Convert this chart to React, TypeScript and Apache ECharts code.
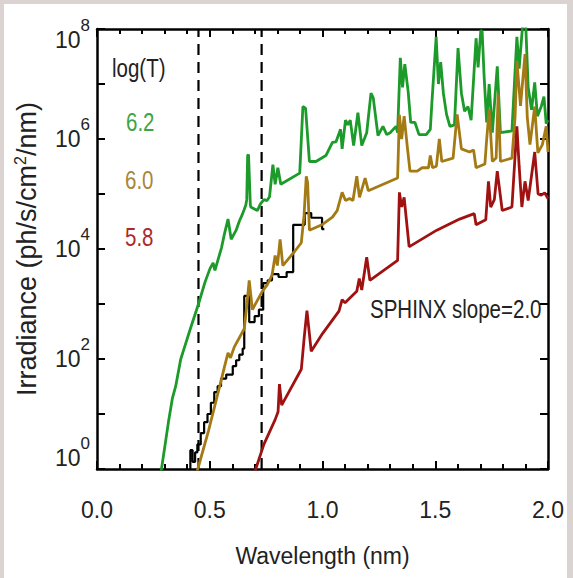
import React, { useEffect, useRef } from "react";
import * as echarts from "echarts";

const FONT = "'Liberation Sans Narrow','Arial Narrow','Nimbus Sans Narrow','Liberation Sans',Arial,sans-serif";
const SX = 0.82;

// x tick labels
const xTicks = [0, 0.5, 1.0, 1.5, 2.0];

// log(T)=6.2
const greenWl = [0.28, 0.286, 0.317, 0.334, 0.349, 0.371, 0.384, 0.414, 0.45, 0.479, 0.501, 0.515, 0.523, 0.552, 0.566, 0.581, 0.595, 0.617, 0.631, 0.646, 0.66, 0.664, 0.668, 0.672, 0.68, 0.682, 0.711, 0.725, 0.74, 0.754, 0.765, 0.78, 0.79, 0.802, 0.815, 0.899, 0.913, 0.925, 0.942, 0.971, 1.015, 1.044, 1.06, 1.08, 1.087, 1.102, 1.112, 1.123, 1.138, 1.157, 1.174, 1.196, 1.215, 1.225, 1.246, 1.268, 1.285, 1.30, 1.326, 1.333, 1.345, 1.355, 1.365, 1.38, 1.391, 1.41, 1.428, 1.46, 1.478, 1.485, 1.504, 1.514, 1.524, 1.536, 1.55, 1.565, 1.585, 1.601, 1.616, 1.63, 1.645, 1.659, 1.681, 1.69, 1.702, 1.708, 1.717, 1.728, 1.739, 1.753, 1.775, 1.789, 1.84, 1.862, 1.872, 1.888, 1.901, 1.912, 1.927, 1.941, 1.953, 1.97, 1.982, 1.992, 2.0];
const greenVal = [0.7, 1, 7.2, 19, 32, 98, 145, 355, 1000, 2500, 4400, 5600, 4100, 1.05e4, 1.95e4, 3.5e4, 1.5e4, 2.2e4, 3.2e4, 4.4e4, 6.3e4, 7.9e4, 5.0e5, 5.2e5, 6.3e4, 5.8e4, 5.0e4, 6.6e4, 7.9e4, 7.6e4, 8.9e4, 3.4e5, 1.5e5, 3.0e5, 1.5e5, 2.4e5, 3.9e6, 3.6e6, 3.9e5, 3.9e5, 5.0e5, 8.7e5, 8.9e5, 1.5e6, 6.6e5, 2.2e6, 1.8e6, 2.2e6, 7.6e5, 3.0e6, 7.6e5, 1.3e6, 6.8e6, 5.6e6, 1.15e6, 1.7e6, 1.2e6, 1.3e6, 1.7e6, 1.3e6, 3.0e7, 8.7e6, 2.3e7, 7.2e6, 2.0e6, 2.0e6, 1.2e6, 1.2e6, 1.5e6, 4.5e6, 7.2e7, 1.0e7, 2.5e7, 6.8e6, 2.8e6, 1.7e6, 1.8e6, 4.5e7, 6.8e6, 3.2e6, 3.9e6, 2.2e6, 6.8e7, 2.0e7, 9.5e7, 8.9e7, 1.3e7, 2.0e6, 1.0e7, 1.3e6, 2.1e7, 1.3e6, 1.4e6, 7.2e7, 1.9e7, 1.26e8, 1.26e8, 8.7e6, 3.4e6, 1.07e7, 2.6e6, 3.9e6, 5.9e6, 1.9e6, 2.2e6];

// log(T)=6.0
const goldWl = [0.44, 0.447, 0.494, 0.523, 0.552, 0.566, 0.581, 0.592, 0.609, 0.653, 0.665, 0.675, 0.689, 0.733, 0.754, 0.776, 0.79, 0.80, 0.812, 0.824, 0.877, 0.906, 0.918, 0.928, 0.934, 0.942, 1.0, 1.044, 1.065, 1.087, 1.102, 1.12, 1.135, 1.152, 1.164, 1.189, 1.203, 1.333, 1.341, 1.351, 1.362, 1.377, 1.388, 1.42, 1.442, 1.47, 1.478, 1.488, 1.505, 1.518, 1.529, 1.579, 1.597, 1.616, 1.652, 1.67, 1.681, 1.72, 1.727, 1.739, 1.753, 1.77, 1.779, 1.789, 1.84, 1.854, 1.862, 1.878, 1.898, 1.908, 1.92, 1.941, 1.955, 1.975, 1.992, 2.0];
const goldVal = [0.8, 1, 4.9, 14.5, 43, 74, 129, 105, 166, 355, 1000, 2700, 790, 1700, 2200, 3300, 7600, 5000, 1.5e4, 5000, 9100, 1.3e4, 4.0e4, 2.1e5, 1.6e5, 2.2e4, 2.8e4, 3.8e4, 5.0e4, 1.07e5, 7.6e4, 8.3e4, 7.6e4, 2.1e5, 8.7e4, 1.95e5, 1.15e5, 1.95e5, 2.75e6, 1.0e6, 2.6e6, 6.6e5, 2.6e5, 2.6e5, 3.0e5, 3.0e5, 5.0e5, 3.0e5, 3.2e5, 1.0e6, 3.9e5, 4.5e5, 2.8e6, 6.6e5, 5.8e5, 6.3e5, 3.0e5, 3.5e5, 8.7e5, 3.5e6, 3.9e5, 4.5e5, 6.6e6, 3.9e5, 4.5e5, 2.5e6, 2.6e7, 4.0e6, 3.5e7, 2.5e6, 7.9e5, 3.9e6, 5.6e5, 7.9e5, 1.7e6, 5.8e5];

// log(T)=5.8
const redWl = [0.70, 0.704, 0.74, 0.79, 0.803, 0.809, 0.819, 0.906, 0.919, 0.931, 0.95, 1.0, 1.073, 1.087, 1.10, 1.152, 1.163, 1.174, 1.196, 1.21, 1.333, 1.341, 1.351, 1.362, 1.384, 1.40, 1.507, 1.608, 1.673, 1.681, 1.724, 1.736, 1.746, 1.762, 1.775, 1.797, 1.84, 1.862, 1.872, 1.884, 1.898, 1.912, 1.941, 1.956, 1.97, 1.985, 2.0];
const redVal = [0.8, 1, 2.8, 7.9, 11, 35, 14.5, 65, 250, 760, 138, 290, 740, 1200, 1050, 1700, 2900, 1800, 7100, 2700, 6200, 1.07e5, 5.8e4, 8.7e4, 1.1e4, 1.2e4, 2.2e4, 3.5e4, 4.4e4, 2.75e4, 3.4e4, 1.7e5, 5.8e4, 7.9e4, 2.6e5, 5.0e4, 5.8e4, 1.7e6, 3.2e5, 5.8e4, 1.7e5, 7.6e4, 5.8e5, 1.0e5, 9.5e4, 1.05e5, 8.3e4];

// SPHINX spectrum (bin start, value)
const sphinxWl = [0.40, 0.414, 0.424, 0.435, 0.445, 0.46, 0.475, 0.49, 0.505, 0.52, 0.535, 0.55, 0.573, 0.602, 0.617, 0.631, 0.646, 0.653, 0.675, 0.699, 0.718, 0.737, 0.757, 0.776, 0.805, 0.841, 0.870, 0.921, 0.95, 0.998, 1.008];
const sphinxVal = [0.5, 2.2, 1.35, 2.0, 2.8, 4.5, 7.1, 10, 16, 25, 32, 44, 52, 74, 95, 120, 155, 1400, 470, 600, 790, 2400, 2700, 3500, 3100, 3800, 2.75e4, 4.5e4, 3.7e4, 2.3e4, 2.3e4];

// dashed band edges (nm) and y range
const bandEdges = [0.45, 0.73];
const yRange = [1, 1e8];

const zip = (xs: number[], ys: number[]) => xs.map((x, i) => [x, ys[i]]);

export default function App() {
  const ref = useRef<HTMLDivElement>(null);
  useEffect(() => {
    const chart = echarts.init(ref.current!, null, { renderer: "svg" });
    const axisLine = { show: true, onZero: false, lineStyle: { color: "#000", width: 2.5 } };
    const tick = { show: true, inside: true, length: 8, lineStyle: { color: "#000", width: 2 } };
    const minor = { show: true, splitNumber: 5, length: 5, lineStyle: { color: "#000", width: 2 } };
    const yFmt = (v: number) => {
      const e = Math.round(Math.log10(v));
      if (e % 2 !== 0) return "";
      if (e === 8) return `{sp8| }\n{b|10}{s|${e}}`;
      if (e === 0) return `{b|10}{s|${e}}\n{sp0| }`;
      return `{b|10}{s|${e}}`;
    };
    const lineSeries = (data: number[][], color: string, width: number, z: number, extra: any = {}) => ({
      type: "line",
      data,
      xAxisIndex: 0,
      yAxisIndex: 0,
      symbol: "none",
      showSymbol: false,
      silent: true,
      clip: true,
      z,
      lineStyle: { color, width, ...(extra.lineStyle || {}) },
      ...(extra.step ? { step: extra.step } : {}),
    });
    const txt = (text: string, x: number, y: number, fill: string) => ({
      type: "text", x, y, scaleX: SX, scaleY: 1,
      style: { text, fontSize: 25, fontFamily: FONT, fill, verticalAlign: "middle" },
    });
    chart.setOption({
      animation: false,
      textStyle: { fontFamily: FONT },
      grid: { left: 89, top: 13.5, right: 13.5, bottom: 109 },
      xAxis: [
        {
          type: "value", min: 0, max: 2, interval: 0.5, position: "bottom",
          axisLine, axisTick: tick, minorTick: minor, splitLine: { show: false },
          axisLabel: {
            margin: 29, fontSize: 23, color: "#222", fontFamily: FONT,
            formatter: (v: number) => (xTicks.some((t) => Math.abs(t - v) < 1e-6) ? v.toFixed(1) : ""),
          },
          name: "Wavelength (nm)", nameLocation: "middle", nameGap: 75,
          nameTextStyle: { fontSize: 23, color: "#222", fontFamily: FONT },
        },
        {
          type: "value", min: 0, max: 2, interval: 0.5, position: "top",
          axisLine, axisTick: tick, minorTick: minor, splitLine: { show: false },
          axisLabel: { show: false },
        },
      ],
      yAxis: [
        {
          type: "log", logBase: 10, min: yRange[0], max: yRange[1], position: "left",
          axisLine, axisTick: tick, splitLine: { show: false }, minorTick: { show: false },
          axisLabel: {
            margin: 7, color: "#222", fontFamily: FONT, formatter: yFmt,
            rich: {
              b: { fontSize: 23, lineHeight: 46, fontFamily: FONT, color: "#222" },
              s: { fontSize: 17, lineHeight: 17, verticalAlign: "top", fontFamily: FONT, color: "#222" },
              sp8: { fontSize: 4, lineHeight: 22 },
              sp0: { fontSize: 4, lineHeight: 22 },
            },
          },
          name: "{t|Irradiance (ph/s/cm}{s|2}{t|/nm)}", nameLocation: "middle", nameGap: 55, nameRotate: 90,
          nameTextStyle: {
            color: "#222",
            rich: {
              t: { fontSize: 27, lineHeight: 30, fontFamily: FONT, color: "#222" },
              s: { fontSize: 16, lineHeight: 16, verticalAlign: "top", fontFamily: FONT, color: "#222" },
            },
          },
        },
        {
          type: "log", logBase: 10, min: yRange[0], max: yRange[1], position: "right",
          axisLine, axisTick: tick, splitLine: { show: false }, axisLabel: { show: false },
        },
      ],
      series: [
        lineSeries([[bandEdges[0], yRange[0]], [bandEdges[0], yRange[1]]], "#000", 2.2, 1, { lineStyle: { type: [11, 7] } }),
        lineSeries([[bandEdges[1], yRange[0]], [bandEdges[1], yRange[1]]], "#000", 2.2, 1, { lineStyle: { type: [11, 7] } }),
        lineSeries(zip(sphinxWl, sphinxVal), "#000", 2.2, 2, { step: "end" }),
        lineSeries(zip(greenWl, greenVal), "#1c9a2a", 2.8, 3),
        lineSeries(zip(goldWl, goldVal), "#a47a14", 2.8, 4),
        lineSeries(zip(redWl, redVal), "#a01212", 2.8, 5),
      ],
      graphic: [
        txt("log(T)", 108, 64, "#222"),
        txt("6.2", 122, 118.5, "#3ea445"),
        txt("6.0", 121, 176, "#a8863a"),
        txt("5.8", 121, 233.5, "#b02828"),
        txt("SPHINX slope=2.0", 366, 305, "#222"),
      ],
    });
    return () => chart.dispose();
  }, []);
  return (
    <div style={{ position: "fixed", left: 0, top: 0, width: 573, height: 578, background: "#dad3d1" }}>
      <div ref={ref} style={{ position: "absolute", left: 4, top: 4, width: 563, height: 574, background: "#fff" }} />
    </div>
  );
}
